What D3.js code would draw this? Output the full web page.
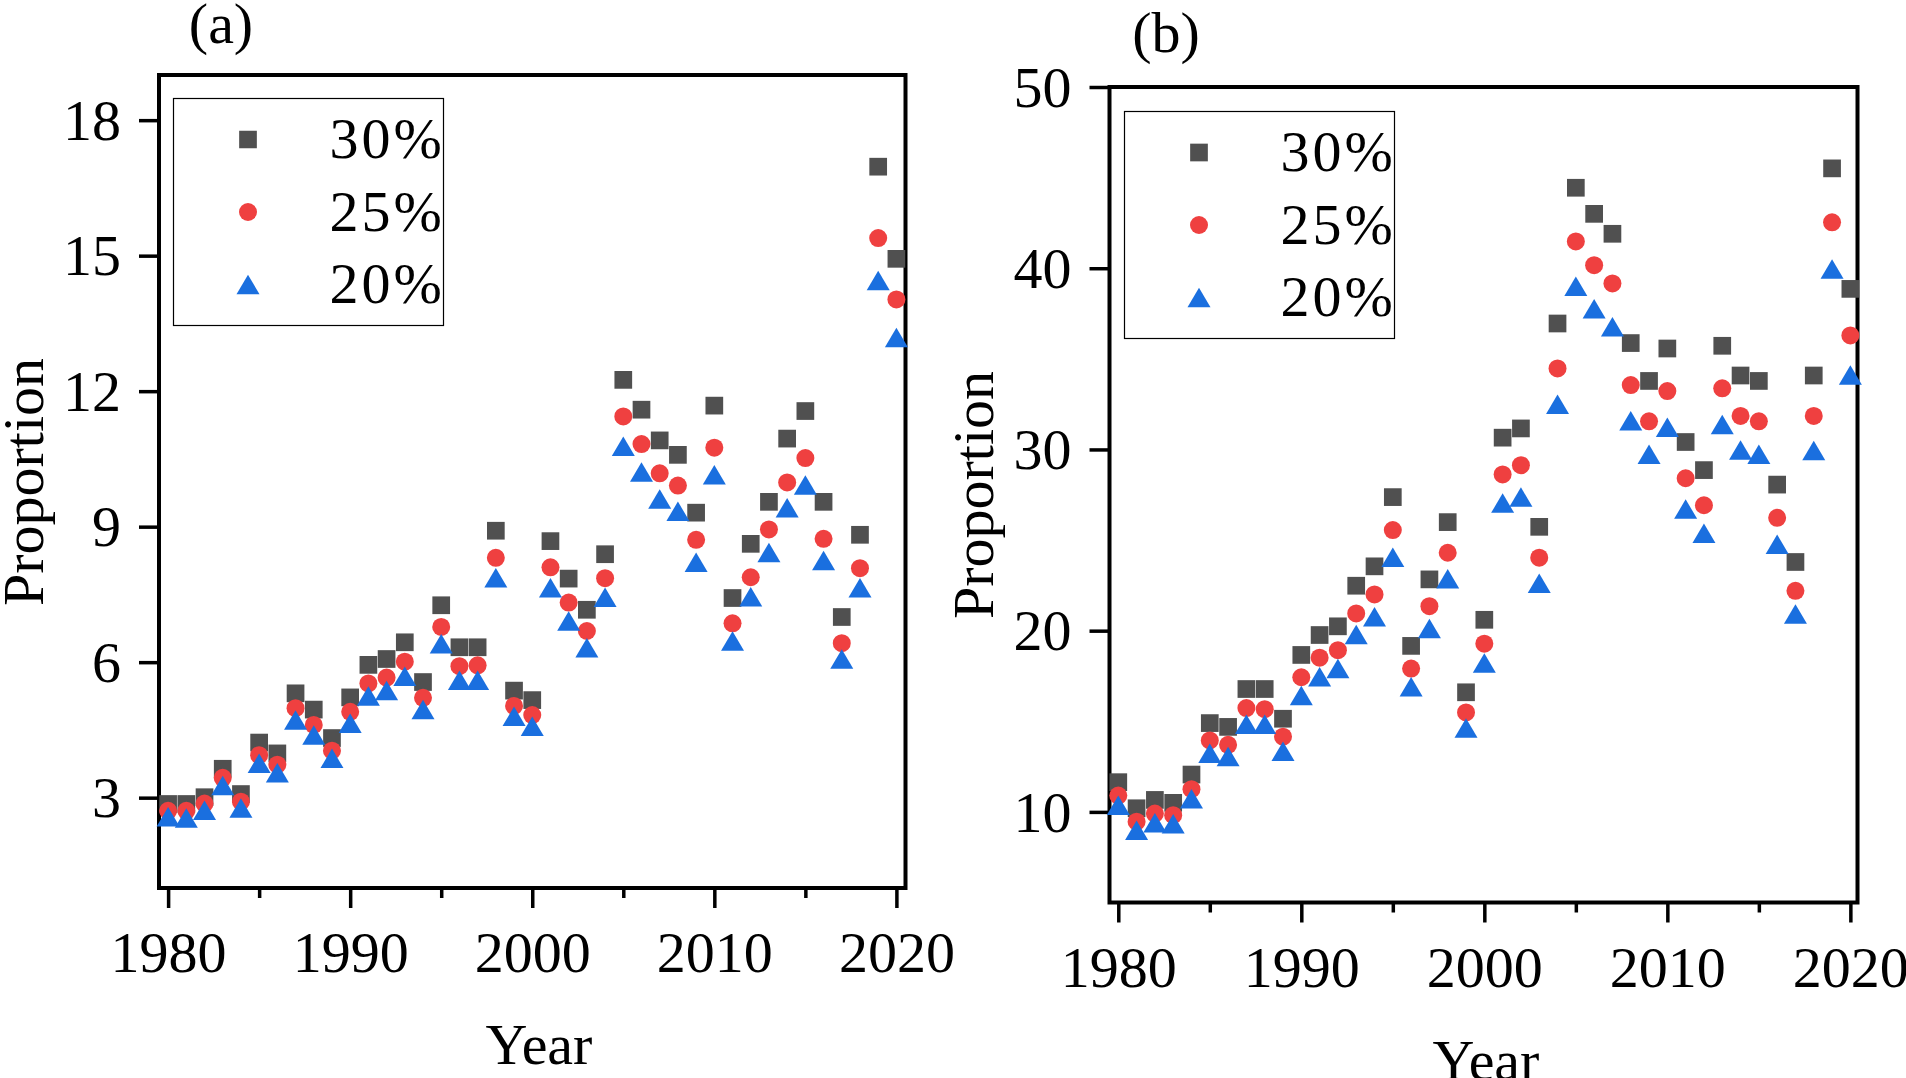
<!DOCTYPE html>
<meta charset="utf-8">
<html>
  <head>
    <style>
      body { margin: 0; background: #fff; }
      text { font-family: "Liberation Serif", "Times New Roman", serif; fill: #000; }
      .axis text { font-size: 58px; }
      .axis line { stroke: #000; stroke-width: 3.5px; }
      .axis path { display: none; }
      .frame { fill: none; stroke: #000; stroke-width: 4px; }
      .legend-box { fill: #fff; stroke: #000; stroke-width: 1.2px; }
      .legend-text { font-size: 58px; letter-spacing: 3px; }
    </style>
    <script src="https://d3js.org/d3.v7.min.js"></script>
  </head>
  <body>
    <div id="chart"></div>
    <script type="text/javascript">
      var width = 1906,
          height = 1078;

      var years = [1980, 1981, 1982, 1983, 1984, 1985, 1986, 1987, 1988, 1989,
                   1990, 1991, 1992, 1993, 1994, 1995, 1996, 1997, 1998, 1999,
                   2000, 2001, 2002, 2003, 2004, 2005, 2006, 2007, 2008, 2009,
                   2010, 2011, 2012, 2013, 2014, 2015, 2016, 2017, 2018, 2019,
                   2020];

      // panel (a)
      var a30 = [2.86, 2.86, 3.01, 3.64, 3.08, 4.22, 3.98, 5.31, 4.95, 4.32,
                 5.22, 5.94, 6.07, 6.44, 5.56, 7.26, 6.33, 6.33, 8.91, 5.37,
                 5.16, 8.68, 7.85, 7.16, 8.39, 12.25, 11.59, 10.91, 10.59, 9.31,
                 11.68, 7.42, 8.62, 9.55, 10.95, 11.56, 9.55, 7.00, 8.82, 16.97,
                 14.93];
      var a25 = [2.71, 2.71, 2.87, 3.44, 2.91, 3.94, 3.73, 4.98, 4.61, 4.04,
                 4.90, 5.53, 5.66, 6.01, 5.21, 6.78, 5.91, 5.93, 8.31, 5.03,
                 4.83, 8.10, 7.32, 6.69, 7.86, 11.44, 10.83, 10.18, 9.91, 8.71,
                 10.75, 6.86, 7.88, 8.94, 9.98, 10.52, 8.73, 6.42, 8.08, 15.39,
                 14.03];
      var a20 = [2.58, 2.55, 2.72, 3.27, 2.77, 3.76, 3.55, 4.72, 4.39, 3.87,
                 4.65, 5.25, 5.37, 5.69, 4.95, 6.41, 5.60, 5.60, 7.87, 4.80,
                 4.58, 7.65, 6.91, 6.32, 7.44, 10.78, 10.21, 9.61, 9.34, 8.21,
                 10.15, 6.47, 7.45, 8.43, 9.42, 9.92, 8.25, 6.07, 7.65, 14.45,
                 13.19];

      // panel (b)
      var b30 = [11.64, 10.2, 10.66, 10.5, 12.06, 14.9, 14.69, 16.78, 16.78, 15.14,
                 18.66, 19.76, 20.24, 22.48, 23.55, 27.37, 19.16, 22.83, 25.99, 16.6,
                 20.6, 30.65, 31.16, 25.73, 36.95, 44.44, 43.0, 41.9, 35.87, 33.78,
                 35.57, 30.41, 28.86, 35.72, 34.08, 33.78, 28.06, 23.79, 34.08, 45.51,
                 38.86];
      var b25 = [10.9, 9.46, 9.91, 9.82, 11.25, 13.94, 13.7, 15.73, 15.67, 14.15,
                 17.43, 18.51, 18.92, 20.95, 22.0, 25.55, 17.91, 21.35, 24.3, 15.49,
                 19.28, 28.62, 29.13, 24.03, 34.47, 41.48, 40.17, 39.16, 33.55, 31.55,
                 33.22, 28.41, 26.92, 33.37, 31.85, 31.55, 26.23, 22.2, 31.85, 42.53,
                 36.29];
      var b20 = [10.36, 8.99, 9.4, 9.34, 10.72, 13.23, 13.05, 14.84, 14.84, 13.35,
                 16.42, 17.46, 17.91, 19.79, 20.77, 24.05, 16.9, 20.12, 22.86, 14.63,
                 18.21, 27.04, 27.37, 22.62, 32.5, 39.01, 37.76, 36.77, 31.59, 29.74,
                 31.23, 26.71, 25.37, 31.37, 29.97, 29.74, 24.77, 20.92, 29.94, 39.96,
                 34.11];

      var seriesNames = ["30%", "25%", "20%"];
      var seriesColors = ["#505050", "#ef4040", "#1a6fdf"];
      var seriesShapes = ["square", "circle", "triangle"];

      var xMajor = [1980, 1990, 2000, 2010, 2020];
      var xMinor = [1985, 1995, 2005, 2015];
      var yTicksA = [3, 6, 9, 12, 15, 18];
      var yTicksB = [10, 20, 30, 40, 50];

      var svg = d3.select("#chart").append("svg")
          .attr("width", width)
          .attr("height", height);

      svg.append("rect").attr("width", width).attr("height", height).attr("fill", "#fff");

      function markerPath(shape, cx, cy) {
        var p = d3.path();
        if (shape === "square") {
          var s = 17.7;
          p.rect(cx - s / 2, cy - s / 2, s, s);
        } else if (shape === "circle") {
          p.arc(cx, cy, 9, 0, 2 * Math.PI);
        } else {
          var w = 23, h = 19.5;
          p.moveTo(cx, cy - h / 2);
          p.lineTo(cx + w / 2, cy + h / 2);
          p.lineTo(cx - w / 2, cy + h / 2);
          p.closePath();
        }
        return p.toString();
      }

      function drawPanel(cfg) {
        var g = svg.append("g");

        var x = d3.scaleLinear().domain(cfg.xDomain).range([cfg.left, cfg.right]);
        var y = d3.scaleLinear().domain(cfg.yDomain).range([cfg.bottom, cfg.top]);

        // y axis
        g.append("g")
          .attr("class", "axis")
          .attr("transform", "translate(" + cfg.left + ",0)")
          .call(d3.axisLeft(y).tickValues(cfg.yTicks).tickSize(20).tickPadding(18).tickFormat(d3.format("d")))
          .selectAll("text").attr("dy", "0.33em");

        // x axis, major + minor
        g.append("g")
          .attr("class", "axis")
          .attr("transform", "translate(0," + cfg.bottom + ")")
          .call(d3.axisBottom(x).tickValues(xMajor).tickSize(20).tickPadding(20).tickFormat(d3.format("d")))
          .selectAll("text").attr("dy", "0.76em");

        g.append("g")
          .attr("class", "axis")
          .attr("transform", "translate(0," + cfg.bottom + ")")
          .call(d3.axisBottom(x).tickValues(xMinor).tickSize(10).tickFormat(""));

        g.append("rect")
          .attr("class", "frame")
          .attr("x", cfg.left)
          .attr("y", cfg.top)
          .attr("width", cfg.right - cfg.left)
          .attr("height", cfg.bottom - cfg.top);

        // scatter points, 30% first so the 20% triangles sit on top
        cfg.series.forEach(function (vals, si) {
          g.append("g").selectAll("path")
            .data(years.map(function (yr, i) { return { year: yr, value: vals[i] }; }))
            .enter().append("path")
              .attr("d", function (d) { return markerPath(seriesShapes[si], x(d.year), y(d.value)); })
              .attr("fill", seriesColors[si]);
        });

        // legend
        var lg = g.append("g");
        lg.append("rect")
          .attr("class", "legend-box")
          .attr("x", cfg.legend.x)
          .attr("y", cfg.legend.y)
          .attr("width", 270)
          .attr("height", 227);

        seriesNames.forEach(function (name, i) {
          var cy = cfg.legend.y + 41 + i * 72.5;
          lg.append("path")
            .attr("d", markerPath(seriesShapes[i], cfg.legend.x + 74.5, cy))
            .attr("fill", seriesColors[i]);
          lg.append("text")
            .attr("class", "legend-text")
            .attr("x", cfg.legend.x + 156)
            .attr("y", cy + 18.5)
            .text(name);
        });

        // labels
        g.append("text")
          .attr("transform", "translate(" + cfg.yLabel[0] + "," + cfg.yLabel[1] + ") rotate(-90)")
          .style("text-anchor", "middle")
          .style("font-size", "58px")
          .text("Proportion");

        g.append("text")
          .attr("x", cfg.xLabel[0])
          .attr("y", cfg.xLabel[1])
          .style("text-anchor", "middle")
          .style("font-size", "58px")
          .text("Year");

        g.append("text")
          .attr("x", cfg.title[0])
          .attr("y", cfg.title[1])
          .style("text-anchor", "middle")
          .style("font-size", "58px")
          .text(cfg.titleText);
      }

      drawPanel({
        left: 159, right: 905.5, top: 75, bottom: 888,
        xDomain: [1979.5, 2020.5], yDomain: [1, 19],
        yTicks: yTicksA,
        series: [a30, a25, a20],
        legend: { x: 173.5, y: 98.5 },
        yLabel: [43, 482],
        xLabel: [539, 1064],
        title: [221, 43], titleText: "(a)"
      });

      drawPanel({
        left: 1109.5, right: 1857.5, top: 87, bottom: 902.5,
        xDomain: [1979.52, 2020.39], yDomain: [5, 50],
        yTicks: yTicksB,
        series: [b30, b25, b20],
        legend: { x: 1124.5, y: 111.5 },
        yLabel: [993, 495],
        xLabel: [1486, 1080],
        title: [1166, 52], titleText: "(b)"
      });
    </script>
  </body>
</html>
